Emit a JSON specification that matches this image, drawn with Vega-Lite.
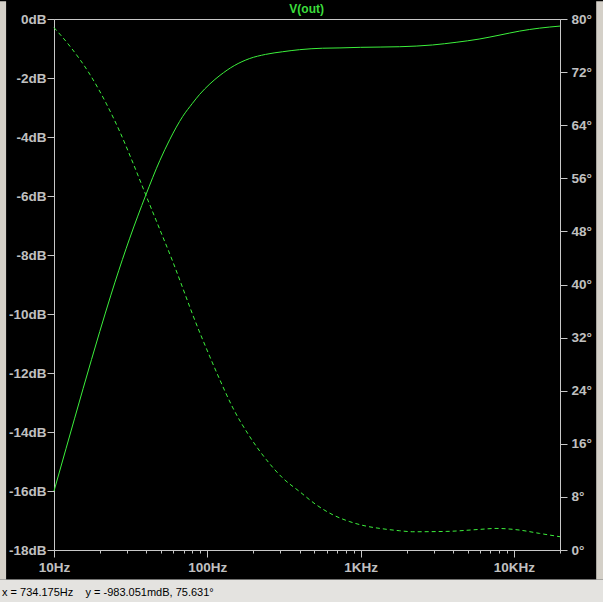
{
  "$schema": "https://vega.github.io/schema/vega-lite/v6.json",
  "width": 506,
  "height": 531,
  "autosize": {"type": "none"},
  "padding": {"left": 54, "top": 19, "right": 43, "bottom": 52},
  "background": "#000000",
  "config": {"view": {"fill": "#000000", "stroke": "#c8c8c8", "strokeWidth": 1}},
  "datasets": {
    "mag": [
      {"f": 10, "db": -16.0}, {"f": 12, "db": -14.55}, {"f": 15.5, "db": -12.52}, {"f": 19.9, "db": -10.59},
      {"f": 23.5, "db": -9.36}, {"f": 25, "db": -8.92}, {"f": 31.2, "db": -7.43}, {"f": 39.7, "db": -5.97},
      {"f": 49, "db": -4.8}, {"f": 57, "db": -4.08}, {"f": 69.2, "db": -3.3}, {"f": 80, "db": -2.86},
      {"f": 89, "db": -2.56}, {"f": 104, "db": -2.2}, {"f": 121, "db": -1.91}, {"f": 150, "db": -1.58},
      {"f": 189, "db": -1.34}, {"f": 240, "db": -1.2}, {"f": 310, "db": -1.11}, {"f": 400, "db": -1.04},
      {"f": 565, "db": -0.99}, {"f": 734, "db": -0.98}, {"f": 1000, "db": -0.96}, {"f": 1800, "db": -0.94},
      {"f": 2950, "db": -0.88}, {"f": 4200, "db": -0.79}, {"f": 5940, "db": -0.68}, {"f": 8000, "db": -0.55},
      {"f": 10900, "db": -0.41}, {"f": 14700, "db": -0.31}, {"f": 20000, "db": -0.24}
    ],
    "phase": [
      {"f": 10, "deg": 78.7}, {"f": 12.7, "deg": 75.9}, {"f": 17.2, "deg": 71.6}, {"f": 22, "deg": 67.2},
      {"f": 26.9, "deg": 63.0}, {"f": 32.9, "deg": 58.2}, {"f": 39.7, "deg": 53.5}, {"f": 49, "deg": 48.3},
      {"f": 59.9, "deg": 43.3}, {"f": 69.6, "deg": 39.3}, {"f": 80.8, "deg": 35.3}, {"f": 104, "deg": 29.1},
      {"f": 121, "deg": 25.6}, {"f": 147, "deg": 21.4}, {"f": 189, "deg": 17.1}, {"f": 243, "deg": 13.6},
      {"f": 312, "deg": 10.8}, {"f": 400, "deg": 8.8}, {"f": 515, "deg": 6.8}, {"f": 660, "deg": 5.3},
      {"f": 843, "deg": 4.3}, {"f": 1085, "deg": 3.6}, {"f": 1390, "deg": 3.2}, {"f": 1800, "deg": 2.9},
      {"f": 2190, "deg": 2.75}, {"f": 3615, "deg": 2.8}, {"f": 5940, "deg": 3.1}, {"f": 7650, "deg": 3.25},
      {"f": 10900, "deg": 3.0}, {"f": 14700, "deg": 2.5}, {"f": 20000, "deg": 2.0}
    ]
  },
  "layer": [
    {
      "data": {"values": [{}]},
      "mark": {"type": "rect", "color": "#d4d0c8"},
      "encoding": {
        "x": {"datum": 1, "type": "quantitative", "scale": {"type": "log", "domain": [10, 20000], "nice": false}},
        "x2": {"datum": 4.87},
        "y": {"datum": 0.6, "type": "quantitative", "scale": {"domain": [-18, 0], "nice": false, "zero": false}, "axis": null},
        "y2": {"datum": -19.0}
      }
    },
    {
      "data": {"values": [{}]},
      "mark": {"type": "rect", "color": "#d4d0c8"},
      "encoding": {
        "x": {"datum": 34450, "type": "quantitative", "scale": {"type": "log", "domain": [10, 20000], "nice": false}},
        "x2": {"datum": 1000000},
        "y": {"datum": 0.6, "type": "quantitative", "scale": {"domain": [-18, 0], "nice": false, "zero": false}, "axis": null},
        "y2": {"datum": -19.0}
      }
    },
    {
      "data": {"values": [{}]},
      "mark": {"type": "rect", "color": "#e4e3e0"},
      "encoding": {
        "x": {"datum": 1, "type": "quantitative", "scale": {"type": "log", "domain": [10, 20000], "nice": false}},
        "x2": {"datum": 1000000},
        "y": {"datum": -19.0, "type": "quantitative", "scale": {"domain": [-18, 0], "nice": false, "zero": false}, "axis": null},
        "y2": {"datum": -30}
      }
    },
    {
      "data": {"values": [{"label": "x = 734.175Hz\u00a0\u00a0\u00a0\u00a0y = -983.051mdB, 75.631°"}]},
      "mark": {"type": "text", "color": "#000000", "font": "Liberation Sans", "fontSize": 11, "align": "left", "baseline": "middle"},
      "encoding": {
        "x": {"datum": 4.58, "type": "quantitative", "scale": {"type": "log", "domain": [10, 20000], "nice": false}},
        "y": {"datum": -19.46, "type": "quantitative", "scale": {"domain": [-18, 0], "nice": false, "zero": false}, "axis": null},
        "text": {"field": "label"}
      }
    },
    {
      "data": {"values": [{"label": "V(out)"}]},
      "mark": {"type": "text", "color": "#3cdc3c", "font": "Liberation Sans", "fontSize": 12, "fontWeight": "bold", "align": "center", "baseline": "middle"},
      "encoding": {
        "x": {"datum": 445, "type": "quantitative", "scale": {"type": "log", "domain": [10, 20000], "nice": false}},
        "y": {"datum": 0.34, "type": "quantitative", "scale": {"domain": [-18, 0], "nice": false, "zero": false}, "axis": null},
        "text": {"field": "label"}
      }
    },
    {
      "data": {"name": "mag"},
      "mark": {"type": "line", "color": "#3cf03c", "strokeWidth": 1, "interpolate": "monotone"},
      "encoding": {
        "x": {
          "field": "f", "type": "quantitative",
          "scale": {"type": "log", "domain": [10, 20000], "nice": false},
          "axis": {
            "orient": "bottom",
            "values": [10, 20, 30, 40, 50, 60, 70, 80, 90, 100, 200, 300, 400, 500, 600, 700, 800, 900, 1000, 2000, 3000, 4000, 5000, 6000, 7000, 8000, 9000, 10000, 20000],
            "labelExpr": "datum.value == 10 ? '10Hz' : datum.value == 100 ? '100Hz' : datum.value == 1000 ? '1KHz' : datum.value == 10000 ? '10KHz' : ''",
            "tickSize": {"condition": {"test": "datum.value == 10 || datum.value == 100 || datum.value == 1000 || datum.value == 10000", "value": 7}, "value": 3},
            "domainColor": "#c8c8c8", "tickColor": "#c8c8c8",
            "labelColor": "#c0c0c0", "labelFont": "Liberation Sans", "labelFontWeight": "bold", "labelFontSize": 13.5,
            "labelPadding": 3, "labelFlush": false, "labelOverlap": false,
            "grid": false, "title": null
          }
        },
        "y": {
          "field": "db", "type": "quantitative",
          "scale": {"domain": [-18, 0], "nice": false, "zero": false},
          "axis": {
            "orient": "left",
            "values": [-18, -16, -14, -12, -10, -8, -6, -4, -2, 0],
            "labelExpr": "datum.value + 'dB'",
            "tickSize": 7, "labelPadding": 1,
            "domainColor": "#c8c8c8", "tickColor": "#c8c8c8",
            "labelColor": "#c0c0c0", "labelFont": "Liberation Sans", "labelFontWeight": "bold", "labelFontSize": 13.5,
            "labelFlush": false, "labelOverlap": false,
            "grid": false, "title": null
          }
        }
      }
    },
    {
      "data": {"name": "phase"},
      "mark": {"type": "line", "color": "#3cf03c", "strokeWidth": 1, "strokeDash": [4, 3], "interpolate": "monotone"},
      "encoding": {
        "x": {"field": "f", "type": "quantitative", "scale": {"type": "log", "domain": [10, 20000], "nice": false}},
        "y": {
          "field": "deg", "type": "quantitative",
          "scale": {"domain": [0, 80], "nice": false, "zero": false},
          "axis": {
            "orient": "right",
            "values": [0, 8, 16, 24, 32, 40, 48, 56, 64, 72, 80],
            "labelExpr": "datum.value + '°'",
            "tickSize": 7, "labelPadding": 4,
            "domainColor": "#c8c8c8", "tickColor": "#c8c8c8",
            "labelColor": "#c0c0c0", "labelFont": "Liberation Sans", "labelFontWeight": "bold", "labelFontSize": 13.5,
            "labelFlush": false, "labelOverlap": false,
            "grid": false, "title": null
          }
        }
      }
    }
  ],
  "resolve": {"scale": {"y": "independent"}}
}
